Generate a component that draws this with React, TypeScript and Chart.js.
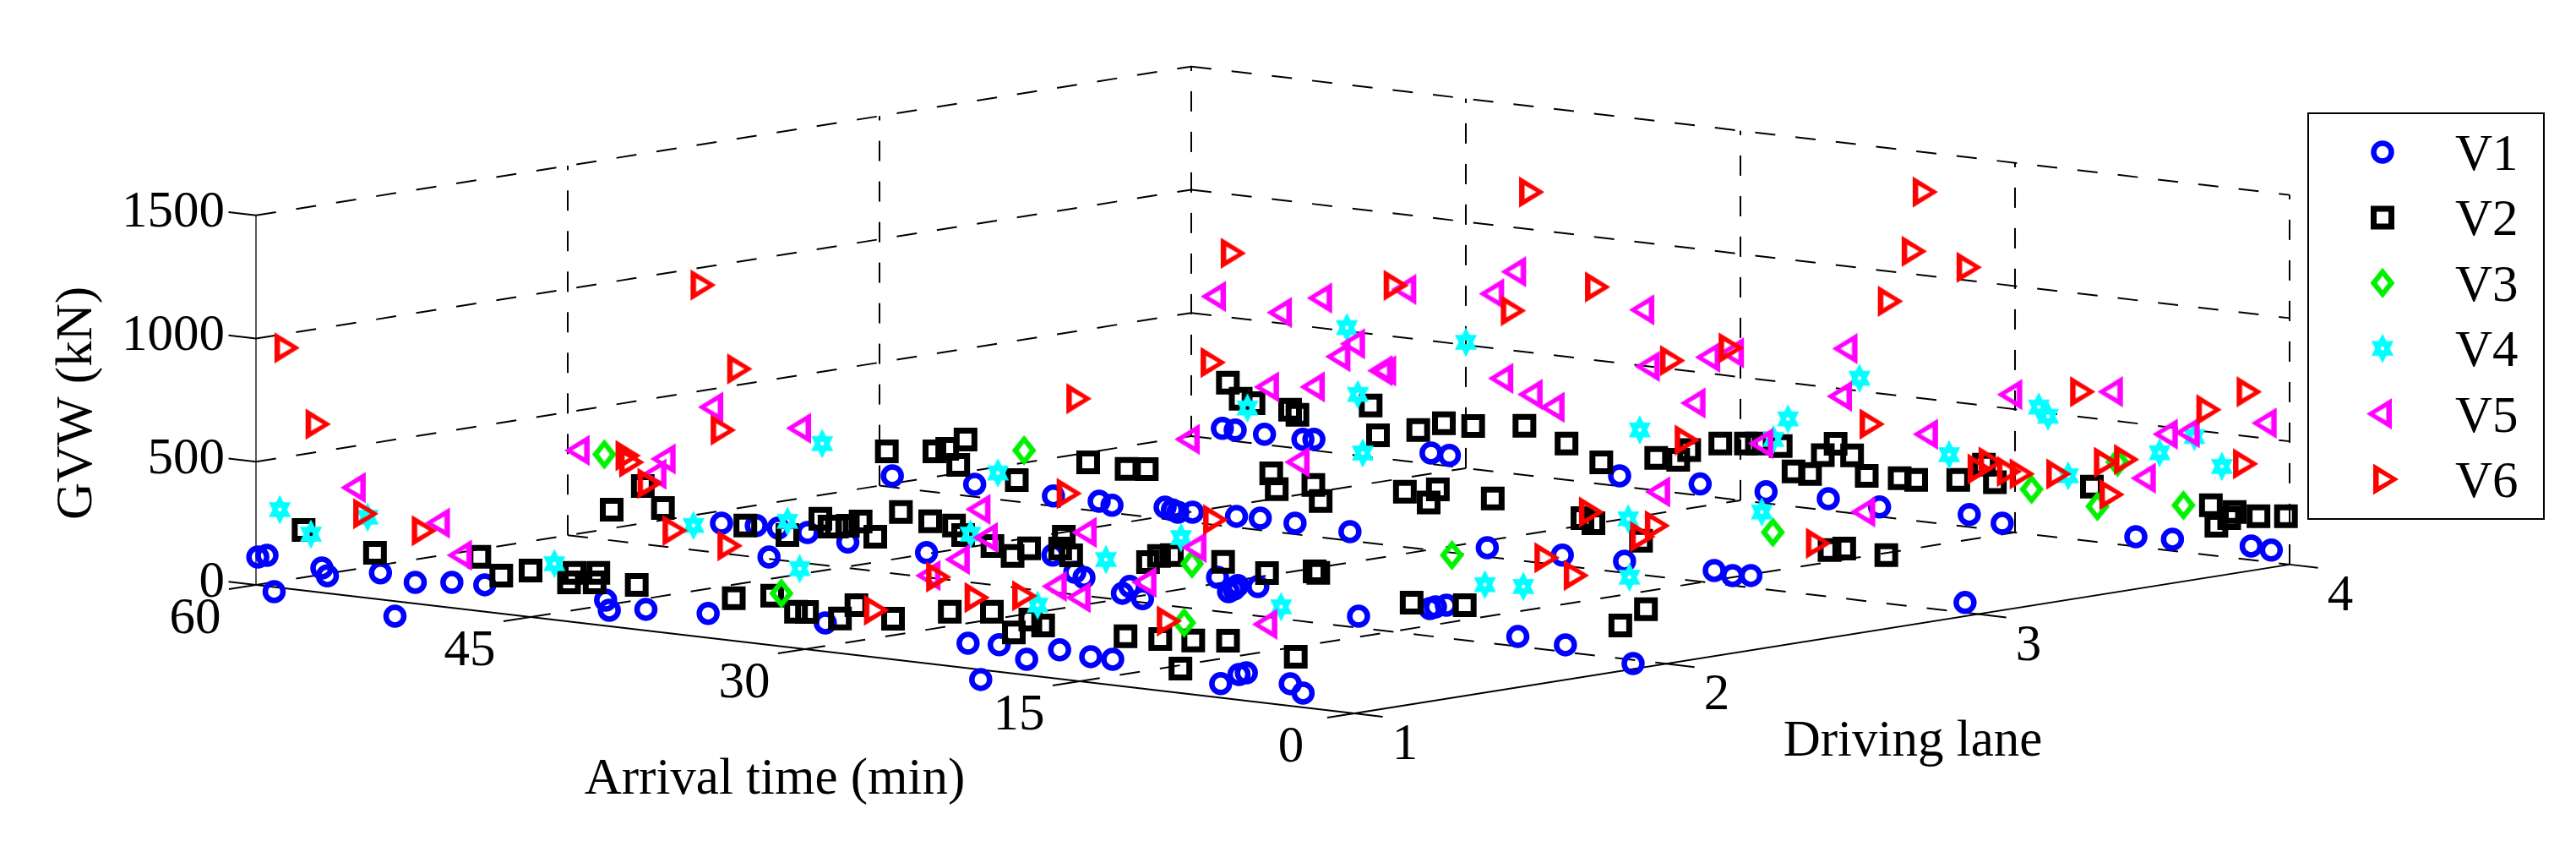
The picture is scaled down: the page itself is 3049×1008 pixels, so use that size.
import React, { useEffect, useRef } from 'react';
import { Chart, registerables } from 'chart.js';
import { drawPoint } from 'chart.js/helpers';

Chart.register(...registerables);

// every point: [arrival time (min), driving lane, GVW (kN)]
const v1 = [
  [53.9, 0.7, 86], [59.9, 1, 114], [59.4, 1, 125], [56.4, 1, 100], [56.1, 1, 71], [53.2, 1, 108], [51.3, 1, 86], [49.3, 1, 103],
  [47.5, 1, 109], [47.3, 0.7, 44], [40.9, 1, 104], [40.7, 1, 65], [38.7, 1, 86], [35.3, 1, 99], [51.6, 2, 122], [49.7, 2, 129],
  [48.5, 2, 129], [46.9, 2, 125], [44.7, 2, 106], [45.6, 1.8, 77], [28.9, 1, 116], [59.3, 3, 46], [54.8, 3, 51], [40.4, 2, 100],
  [50.5, 3, 41], [33.5, 2, 150], [21.1, 1, 101], [19.4, 1, 110], [17.9, 1, 64], [16.1, 1, 118], [15.3, 0.7, 65], [48, 3, 41],
  [47.3, 3, 31], [58.3, 4, 46], [57.6, 4, 45], [56, 4, 42], [53.9, 4, 40], [53.3, 4, 45], [46.9, 4, 45], [45.9, 4, 44],
  [44.4, 3, 48], [44, 3, 41], [43.7, 3, 34], [42.9, 3, 41], [40.5, 3, 45], [39.2, 3, 49], [37.3, 3, 45], [34.3, 3, 37],
  [26.8, 3, 37], [31.8, 2, 74], [32.3, 2, 91], [29.3, 2, 59], [29.7, 2, 28], [28.6, 2, 16], [24.5, 2, 138], [23.4, 2, 114],
  [23.6, 2, 98], [23.9, 2, 85], [22.3, 2, 119], [16.8, 2, 47], [12.9, 2, 112], [12.6, 2, 121], [12, 2, 133], [14.4, 1, 105],
  [13.2, 1, 105], [7.3, 1, 57], [6.3, 1, 103], [5.9, 1, 113], [3.5, 1, 90], [2.8, 1, 58], [36.6, 4, 42], [32.2, 4, 47],
  [28.6, 4, 47], [25.2, 4, 48], [22.4, 4, 39], [22.7, 3, 42], [19.3, 3, 47], [14.4, 3, 52], [13.4, 3, 40], [12.4, 3, 49],
  [8.1, 2, 40], [5.5, 2, 29], [0.1, 1.9, 20], [17.5, 4, 51], [15.7, 4, 31], [8.4, 4, 40], [6.4, 4, 47], [2.1, 4, 57],
  [1, 4, 50], [0.7, 3, 41],
];

const v2 = [
  [57.4, 1, 246], [53.5, 1, 187], [47.8, 1, 220], [46.6, 1, 154], [45, 1, 189], [42.9, 1, 159], [42.6, 1, 200], [41.5, 1, 171],
  [41.3, 1, 211], [57.6, 2, 125], [39.2, 1, 181], [55.9, 2, 236], [54.8, 2, 156], [50.3, 2, 124], [48, 2, 105], [46.2, 2, 187],
  [45.7, 2, 160], [45.3, 2, 163], [44.7, 2, 172], [44, 2, 195], [43.2, 2, 140], [41.8, 2, 253], [40.2, 2, 229], [38.9, 2, 223],
  [38.4, 2, 189], [36.8, 2, 158], [35.7, 2, 127], [34.8, 2, 166], [32.9, 2, 230], [33.1, 2, 180], [32.5, 2, 158], [59.6, 3, 143],
  [57, 3, 165], [56.3, 3, 182], [55.3, 3, 228], [55.7, 3, 122], [52.5, 3, 88], [33.9, 1, 173], [31.8, 1, 201], [30.5, 1, 147],
  [29.9, 1, 152], [28.1, 1, 141], [27.2, 1, 203], [25.2, 1, 165], [22.1, 1, 220], [19.8, 1, 240], [18.6, 1, 167], [17.7, 1, 227],
  [17, 1, 209], [58, 4, 234], [57.3, 4, 175], [56.6, 4, 163], [54.6, 4, 154], [54.2, 4, 137], [50.2, 4, 209], [49.8, 4, 92],
  [47.6, 4, 132], [46.2, 4, 172], [44.6, 4, 175], [48.6, 3, 194], [46.5, 3, 185], [45.4, 3, 194], [38.6, 3, 236], [38.3, 3, 174],
  [36.3, 3, 209], [35.9, 3, 147], [31.3, 3, 225], [29.5, 3, 250], [30, 3, 192], [26.5, 3, 239], [28.3, 2, 167], [27.7, 2, 197],
  [27, 2, 206], [24.2, 2, 203], [21.8, 2, 179], [19.2, 2, 208], [19, 2, 204], [13.9, 2, 127], [11, 2, 142], [12.5, 1, 204],
  [10.6, 1, 210], [8.8, 1, 219], [6.9, 1, 235], [9.5, 1, 99], [3.2, 1, 202], [41.8, 4, 200], [39.5, 4, 148], [37.6, 4, 88],
  [34.6, 4, 132], [33.4, 4, 135], [32.8, 4, 179], [31.1, 4, 221], [29.7, 4, 233], [29.1, 4, 238], [27.8, 4, 239], [27.1, 4, 142],
  [26.2, 4, 140], [25.5, 4, 222], [24.8, 4, 275], [23.9, 4, 235], [23.1, 4, 159], [21.3, 4, 165], [21.6, 3, 202], [21, 3, 187],
  [18.4, 3, 138], [8.1, 3, 190], [7.3, 3, 203], [5, 3, 196], [1.1, 2, 212], [2.5, 2, 134], [20.4, 4, 166], [18.1, 4, 186],
  [16.7, 4, 260], [16.1, 4, 194], [10.8, 4, 222], [4.3, 4, 203], [4, 4, 123], [3.3, 4, 160], [3, 4, 187], [1.7, 4, 181],
  [0.2, 4, 194],
];

const v3 = [
  [58, 2, 346], [31.3, 1, 215], [52.1, 3, 212], [25.9, 2, 181], [9.3, 1, 287], [11.7, 2, 339], [11.2, 3, 235], [14.1, 4, 183],
  [10.5, 4, 145], [9.4, 4, 334], [5.8, 4, 190],
];

const v4 = [
  [58.7, 1, 317], [57, 1, 232], [53.9, 1, 328], [43.7, 1, 228], [36.1, 1, 449], [48, 2, 161], [30.3, 1, 324], [46.1, 2, 493],
  [36.5, 2, 457], [38, 2, 196], [17.3, 1, 289], [39.9, 3, 490], [50.9, 4, 248], [33.6, 3, 362], [30.6, 2, 157], [26.5, 2, 282],
  [4, 1, 398], [9.9, 2, 235], [7.8, 2, 246], [19.1, 3, 221], [2, 2, 334], [35.5, 4, 238], [11.8, 3, 312], [28.2, 4, 263],
  [27.4, 4, 353], [23.5, 4, 552], [18.6, 4, 284], [13.7, 4, 520], [13.2, 4, 487], [12.1, 4, 255], [7.1, 4, 392], [5.2, 4, 474],
  [3.7, 4, 366], [51.5, 4, 514], [45, 4, 511],
];

const v5 = [
  [54.7, 1, 441], [50.1, 1, 337], [48.9, 1, 217], [59.5, 2, 349], [52.2, 2, 588], [54.8, 2, 355], [55.3, 2, 289], [47.4, 2, 544],
  [37.6, 2, 300], [37.2, 2, 189], [21.7, 1, 436], [23.3, 1, 357], [16.4, 1, 373], [31.8, 2, 257], [15.1, 1, 339], [11.5, 1, 432],
  [25.8, 2, 248], [43.2, 3, 334], [37.2, 3, 294], [55.9, 4, 235], [53.4, 4, 257], [4.9, 1, 319], [58.8, 4, 577], [55.2, 4, 543],
  [53, 4, 621], [48.4, 4, 696], [42.4, 4, 820], [43.6, 4, 720], [51.2, 4, 451], [52, 4, 392], [49.7, 4, 355], [49.5, 4, 356],
  [43.1, 4, 381], [41.5, 4, 330], [40.3, 4, 288], [32.6, 4, 372], [17.5, 3, 344], [28.9, 4, 240], [24.6, 4, 469], [6.3, 3, 360],
  [35.4, 4, 726], [35.1, 4, 499], [31.8, 4, 565], [30.5, 4, 594], [24.3, 4, 665], [19.9, 4, 356], [15.3, 4, 557], [9.8, 4, 616],
  [6.8, 4, 470], [5.6, 4, 487], [1.4, 4, 562], [8, 4, 281],
];

const v6 = [
  [58.3, 1, 977], [56.6, 1, 682], [54, 1, 341], [50.8, 1, 300], [56.7, 2, 352], [56.5, 2, 327], [55.5, 2, 250], [37.1, 1, 420],
  [34.1, 1, 384], [52.6, 2, 1080], [50.6, 2, 757], [51.5, 2, 501], [22.7, 1, 356], [20.6, 1, 291], [18, 1, 321], [26.1, 1, 192],
  [32.6, 2, 408], [49.1, 3, 448], [24.6, 2, 371], [10.1, 1, 287], [57.7, 4, 762], [58.8, 4, 309], [48.8, 4, 709], [41.4, 4, 1152],
  [37.8, 4, 798], [42.4, 4, 662], [33.7, 4, 535], [32.9, 4, 219], [21.1, 3, 231], [6.5, 2, 374], [4.9, 2, 316], [18.3, 3, 155],
  [17.5, 3, 207], [8.7, 3, 212], [22.8, 4, 372], [19.9, 4, 1339], [20.5, 4, 1093], [17.5, 4, 1054], [21.8, 4, 879], [30.5, 4, 614],
  [11.3, 4, 603], [2.2, 4, 682], [4.4, 4, 590], [2.4, 4, 388], [16.9, 4, 241], [16.3, 4, 274], [15.3, 4, 245], [14.6, 4, 241],
  [12.6, 4, 258], [10, 4, 328], [8.9, 4, 349], [9.7, 4, 200],
];

const timeTicks = [60, 45, 30, 15, 0];
const laneTicks = [1, 2, 3, 4];
const gvwTicks = [0, 500, 1000, 1500];
const seriesNames = ['V1', 'V2', 'V3', 'V4', 'V5', 'V6'];

const FONT = '61px "Liberation Serif"';

// fixed view of the 3D box onto the flat chart plane
const project = (t: number, lane: number, gvw: number) => ({
  x: 303 + 21.667 * (60 - t) + 369 * (lane - 1),
  y: 692 + 2.533 * (60 - t) - 58.7 * (lane - 1) - 0.2915 * gvw,
});

function sprite(w: number, h: number, color: string, draw: (c: CanvasRenderingContext2D) => void) {
  const cv = document.createElement('canvas');
  cv.width = w;
  cv.height = h;
  const c = cv.getContext('2d')!;
  c.translate(w / 2, h / 2);
  c.fillStyle = color;
  c.beginPath();
  draw(c);
  c.fill('evenodd');
  return cv;
}

function poly(c: CanvasRenderingContext2D, pts: number[][]) {
  pts.forEach((p, i) => (i ? c.lineTo(p[0], p[1]) : c.moveTo(p[0], p[1])));
  c.closePath();
}

const triangle = (color: string, dir: number) =>
  sprite(32, 38, color, (c) => {
    poly(c, [[-15 * dir, -18.5], [-15 * dir, 18.5], [15 * dir, 0]]);
    poly(c, [[-8.5 * dir, -8], [-8.5 * dir, 8], [5.5 * dir, 0]]);
  });

const diamond = (color: string) =>
  sprite(30, 38, color, (c) => {
    poly(c, [[0, -18], [14.5, 0], [0, 18], [-14.5, 0]]);
    poly(c, [[0, -8.5], [6.5, 0], [0, 8.5], [-6.5, 0]]);
  });

const hexagram = (color: string) =>
  sprite(28, 36, color, (c) => {
    const pts: number[][] = [];
    for (let i = 0; i < 12; i++) {
      const a = (i * Math.PI) / 6 - Math.PI / 2;
      const r = i % 2 ? 10.1 : 17.5;
      pts.push([r * Math.cos(a) * 0.86, r * Math.sin(a)]);
    }
    poly(c, pts);
    c.moveTo(2.2, 0);
    c.arc(0, 0, 2.2, 0, Math.PI * 2);
  });

const line3d = (pts: number[][], dashed = true, width = 2) => ({
  data: pts.map((p) => project(p[0], p[1], p[2])),
  showLine: true,
  borderColor: '#000',
  borderWidth: width,
  borderDash: dashed ? [24, 24] : [],
  borderCapStyle: 'butt',
  pointRadius: 0,
  order: 100,
});

function frameLines() {
  const lines: any[] = [];
  // walls
  gvwTicks.slice(1).forEach((g) => {
    lines.push(line3d([[60, 1, g], [60, 4, g]]));
    lines.push(line3d([[60, 4, g], [0, 4, g]]));
  });
  laneTicks.slice(1).forEach((l) => lines.push(line3d([[60, l, 0], [60, l, 1500]])));
  timeTicks.slice(1).forEach((t) => lines.push(line3d([[t, 4, 0], [t, 4, 1500]])));
  // floor
  timeTicks.forEach((t) => {
    if (t !== 0) lines.push(line3d([[t, 1, 0], [t, 4, 0]]));
  });
  laneTicks.slice(1).forEach((l) => lines.push(line3d([[60, l, 0], [0, l, 0]])));
  // axes
  lines.push(line3d([[60, 1, 0], [60, 1, 1500]], false, 1.3));
  lines.push(line3d([[60, 1, 0], [0, 1, 0]], false));
  lines.push(line3d([[0, 1, 0], [0, 4, 0]], false));
  // ticks
  timeTicks.forEach((t) => lines.push(line3d([[t, 1, 0], [t, 0.913, 0]], false)));
  laneTicks.forEach((l) => lines.push(line3d([[0, l, 0], [-1.55, l, 0]], false)));
  gvwTicks.forEach((g) => lines.push(line3d([[60, 1, g], [61.5, 1, g]], false)));
  return lines;
}

const axisText = {
  id: 'axisText',
  afterDraw(chart: any) {
    const { ctx, scales } = chart;
    const px = (p: { x: number; y: number }) => ({ x: scales.x.getPixelForValue(p.x), y: scales.y.getPixelForValue(p.y) });
    ctx.save();
    ctx.fillStyle = '#000';
    ctx.font = FONT;
    ctx.textBaseline = 'middle';
    ctx.textAlign = 'center';
    timeTicks.forEach((t) => {
      const p = px(project(t, 1, 0));
      ctx.fillText(String(t), p.x - (t === 0 ? 75 : 72), p.y + 41);
    });
    laneTicks.forEach((l) => {
      const p = px(project(0, l, 0));
      ctx.fillText(String(l), p.x + 60, p.y + 38);
    });
    ctx.textAlign = 'right';
    gvwTicks.forEach((g) => {
      const p = px(project(60, 1, g));
      ctx.fillText(String(g), 266, p.y - 2.5);
    });
    ctx.textBaseline = 'alphabetic';
    ctx.textAlign = 'center';
    ctx.fillText('Arrival time (min)', 917, 939);
    ctx.fillText('Driving lane', 2264, 894);
    ctx.translate(108, 477);
    ctx.rotate(-Math.PI / 2);
    ctx.fillText('GVW (kN)', 0, 0);
    ctx.restore();
  },
};

const boxLegend = {
  id: 'boxLegend',
  afterDraw(chart: any) {
    const { ctx } = chart;
    ctx.save();
    ctx.fillStyle = '#fff';
    ctx.strokeStyle = '#000';
    ctx.lineWidth = 2;
    ctx.fillRect(2732, 134, 279, 480);
    ctx.strokeRect(2732, 134, 279, 480);
    ctx.font = FONT;
    ctx.textAlign = 'left';
    ctx.textBaseline = 'alphabetic';
    chart.data.datasets
      .filter((d: any) => d.label)
      .forEach((d: any, i: number) => {
        const y = 180 + i * 77.4;
        ctx.fillStyle = '#000';
        ctx.fillText(d.label, 2906, y + 21);
        ctx.strokeStyle = d.borderColor;
        ctx.lineWidth = d.pointBorderWidth || 0;
        ctx.fillStyle = 'transparent';
        drawPoint(ctx, { pointStyle: d.pointStyle, radius: d.pointRadius, borderWidth: d.pointBorderWidth || 0, rotation: 0 }, 2820 + d.legendShift, y);
      });
    ctx.restore();
  },
};

export default function App() {
  const chartRef = useRef<HTMLCanvasElement>(null);

  useEffect(() => {
    document.body.style.margin = '0';
    document.body.style.background = '#fff';
    const toPoints = (rows: number[][]) => rows.map((r) => project(r[0], r[1], r[2]));
    const series = (i: number, rows: number[][], style: any) => ({
      label: seriesNames[i],
      data: toPoints(rows),
      showLine: false,
      order: 6 - i,
      legendShift: 0,
      backgroundColor: 'transparent',
      ...style,
    });
    const chart = new Chart(chartRef.current!, {
      type: 'scatter',
      data: {
        datasets: [
          series(0, v1, { pointStyle: 'circle', pointRadius: 10.5, pointBorderWidth: 6.5, borderColor: '#0000ff' }),
          series(1, v2, { pointStyle: 'rect', pointRadius: 14.85, pointBorderWidth: 7, borderColor: '#000000' }),
          series(2, v3, { pointStyle: diamond('#00f000'), pointRadius: 18, borderColor: '#00f000' }),
          series(3, v4, { pointStyle: hexagram('#00ffff'), pointRadius: 18, borderColor: '#00ffff' }),
          series(4, v5, { pointStyle: triangle('#ff00ff', -1), pointRadius: 18, borderColor: '#ff00ff', legendShift: -4 }),
          series(5, v6, { pointStyle: triangle('#ff0000', 1), pointRadius: 18, borderColor: '#ff0000', legendShift: 4 }),
          ...frameLines(),
        ] as any,
      },
      options: {
        animation: false,
        responsive: false,
        devicePixelRatio: 1,
        events: [],
        // no auto padding for the markers, the scales must fill the canvas
        layout: { padding: 0, autoPadding: false },
        scales: {
          x: { type: 'linear', min: 0, max: 3049, display: false },
          y: { type: 'linear', min: 0, max: 1008, reverse: true, display: false },
        },
        plugins: {
          legend: { display: false },
          tooltip: { enabled: false },
        },
      },
      plugins: [axisText, boxLegend],
    });

    return () => {
      chart.destroy();
    };
  }, []);

  return <canvas ref={chartRef} width={3049} height={1008} style={{ display: 'block' }} />;
}
